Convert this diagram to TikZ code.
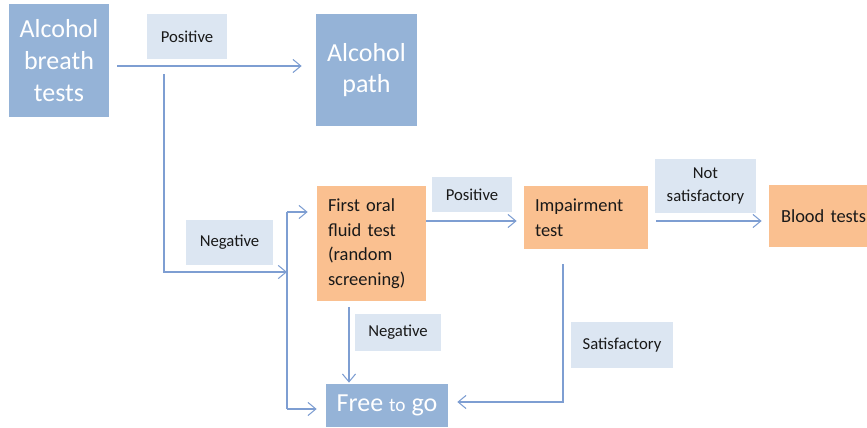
\documentclass[tikz,border=0pt]{standalone}
\usepackage{fontspec}
\setmainfont{Carlito}
\usetikzlibrary{arrows.meta}
\definecolor{bluebox}{HTML}{95B3D7}
\definecolor{lblfill}{HTML}{DCE6F2}
\definecolor{orangebox}{HTML}{FAC090}
\definecolor{connc}{HTML}{7E9ED2}
\begin{document}
\begin{tikzpicture}[x=0.02cm,y=-0.02cm,
  bigbox/.style={fill=bluebox,draw=none,text=white,align=center,inner sep=0pt,
     font=\fontsize{14.8pt}{18pt}\selectfont},
  lbl/.style={fill=lblfill,draw=none,text=black!90,align=center,inner sep=0pt,
     font=\fontsize{9.5pt}{13pt}\selectfont},
  obox/.style={fill=orangebox,draw=none,text=black!90,align=left,inner xsep=0.22cm,inner ysep=0pt,
     font=\fontsize{10.5pt}{14pt}\selectfont},
  conn/.style={draw=connc,line width=0.6pt,-{Straight Barb[length=4.5pt,width=7.5pt]}},
  plain/.style={draw=connc,line width=0.6pt}
]
\useasboundingbox (0,0) rectangle (867,427);
% nodes
\node[bigbox,minimum width=2.0cm,minimum height=2.26cm] (abt) at (59,60.5) {Alcohol\\breath\\tests};
\node[bigbox,minimum width=2.02cm,minimum height=2.24cm] (apath) at (366.5,70) {Alcohol\\path};
\node[lbl,minimum width=1.6cm,minimum height=0.9cm] (pos1) at (187,36.5) {Positive};
\node[lbl,minimum width=1.74cm,minimum height=0.9cm] (neg1) at (229.5,242.5) {Negative};
\node[obox,text width=1.74cm,minimum height=2.3cm] (fo) at (371.5,243.5) {First oral\\fluid test\\(random\\screening)};
\node[lbl,minimum width=1.6cm,minimum height=0.7cm] (pos2) at (472,194.5) {Positive};
\node[obox,text width=2.04cm,minimum height=1.26cm] (imp) at (586,217.5) {Impairment\\test};
\node[lbl,minimum width=2.02cm,minimum height=1.08cm] (ns) at (705.5,186) {Not\\satisfactory};
\node[obox,text width=1.74cm,inner xsep=0.24cm,minimum height=1.24cm] (blood) at (824.5,216) {Blood tests};
\node[lbl,minimum width=1.72cm,minimum height=0.74cm] (neg2) at (398,332.5) {Negative};
\node[bigbox,minimum width=2.44cm,minimum height=0.86cm] (free) at (387,405.5) {Free {\fontsize{11pt}{12pt}\selectfont to} go};
\node[lbl,minimum width=2.04cm,minimum height=0.92cm] (sat) at (622,345) {Satisfactory};
% coordinates
\coordinate (br) at (164,74);
\coordinate (jm) at (287,272);
\coordinate (jt) at (287,212);
\coordinate (jb) at (287,409);
\coordinate (ic) at (563,264);
% connectors
\draw[conn,shorten <=0.16cm,shorten >=0.28cm] (abt.east|-0,66) -- (apath.west|-0,66);
\draw[conn] (br) |- (jm);
\draw[plain] (jt) -- (jb);
\draw[conn,shorten >=0.18cm] (jt) -- (fo.west|-jt);
\draw[conn,shorten >=0.18cm] (jb) -- (free.west|-jb);
\draw[conn,shorten >=0.14cm] (fo.east|-0,221) -- (imp.west|-0,221);
\draw[conn,shorten <=0.16cm,shorten >=0.14cm] (imp.east|-0,221) -- (blood.west|-0,221);
\draw[conn,shorten <=0.12cm,shorten >=0.02cm] (fo.south-|349,0) -- (free.north-|349,0);
\draw[conn,shorten >=0.18cm] (ic) |- (free.east|-0,402);
\end{tikzpicture}
\end{document}
